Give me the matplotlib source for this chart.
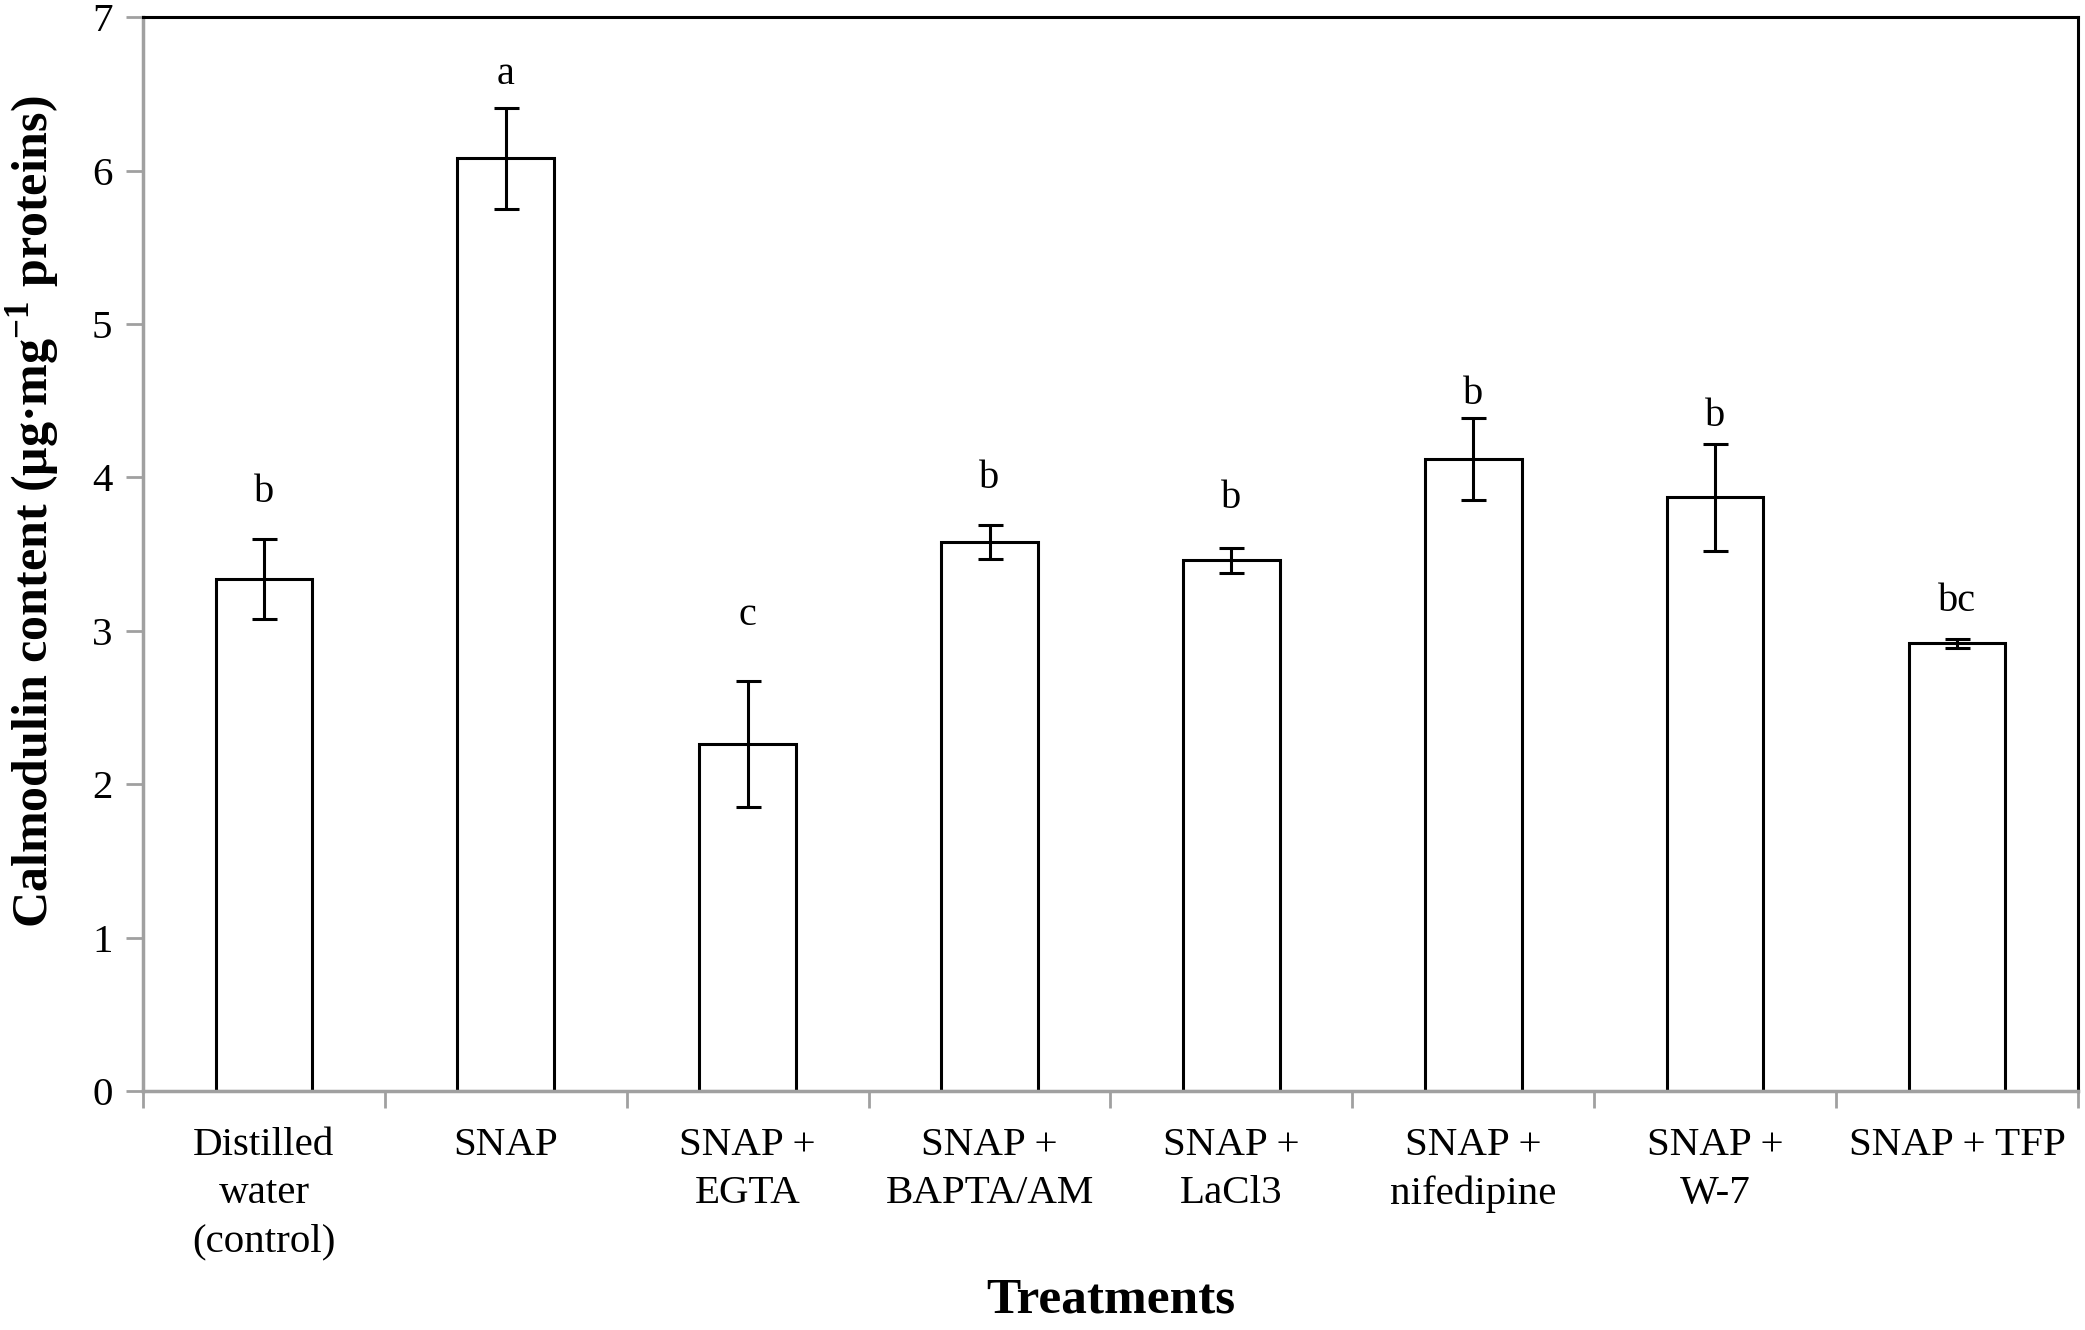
import matplotlib.pyplot as plt
import numpy as np

# Data
treatments = ['Distilled\nwater\n(control)', 'SNAP', 'SNAP +\nEGTA', 'SNAP +\nBAPTA/AM',
              'SNAP +\nLaCl3', 'SNAP +\nnifedipine', 'SNAP +\nW-7', 'SNAP + TFP']
calmodulin = [3.34, 6.08, 2.26, 3.58, 3.46, 4.12, 3.87, 2.92]
errors = [0.26, 0.33, 0.41, 0.11, 0.08, 0.27, 0.35, 0.03]
letters = ['b', 'a', 'c', 'b', 'b', 'b', 'b', 'bc']
letter_y = [3.90, 6.63, 3.10, 3.99, 3.86, 4.54, 4.40, 3.19]

plt.rcParams['font.family'] = ['Liberation Serif', 'DejaVu Serif']
plt.rcParams['mathtext.fontset'] = 'custom'
plt.rcParams['mathtext.rm'] = 'Liberation Serif'
plt.rcParams['mathtext.bf'] = 'Liberation Serif:bold'

fig = plt.figure(figsize=(20.85, 13.3), dpi=100)
ax = fig.add_axes([0.0686, 0.1797, 0.928, 0.8073])

x = np.arange(len(treatments))
ax.bar(x, calmodulin, width=0.40, color='white', edgecolor='black', linewidth=2.2, zorder=2)
ax.errorbar(x, calmodulin, yerr=errors, fmt='none', ecolor='black', elinewidth=2.2,
            capsize=9, capthick=2.2, zorder=3)
for xi, yi, lt in zip(x, letter_y, letters):
    ax.text(xi, yi, lt, ha='center', va='center', fontsize=29)

ax.set_xlim(-0.5, len(treatments) - 0.5)
ax.set_ylim(0, 7)
ax.set_yticks(range(0, 8))

# category labels between boundary ticks
ax.set_xticks(np.arange(-0.5, len(treatments)), minor=False)
ax.set_xticklabels([])
ax.set_xticks(x, minor=True)
ax.set_xticklabels(treatments, minor=True, fontsize=29.5, linespacing=1.4)
ax.tick_params(axis='x', which='minor', length=0, pad=26)
ax.tick_params(axis='x', which='major', length=12, width=2, color='#a0a0a0', direction='out')
ax.tick_params(axis='y', length=12, width=2, color='#a0a0a0', labelsize=29.5, pad=10)

for side in ['left', 'bottom']:
    ax.spines[side].set_color('#a0a0a0')
    ax.spines[side].set_linewidth(2.5)
for side in ['top', 'right']:
    ax.spines[side].set_color('black')
    ax.spines[side].set_linewidth(2.2)

ax.set_xlabel('Treatments', fontsize=37, fontweight='bold', labelpad=12)
ax.set_ylabel(r'Calmodulin content (μg·mg$^{\mathbf{-1}}$ proteins)', fontsize=36,
              fontweight='bold')
ax.yaxis.set_label_coords(-0.042, 0.54)

plt.savefig('out.png', dpi=100)
